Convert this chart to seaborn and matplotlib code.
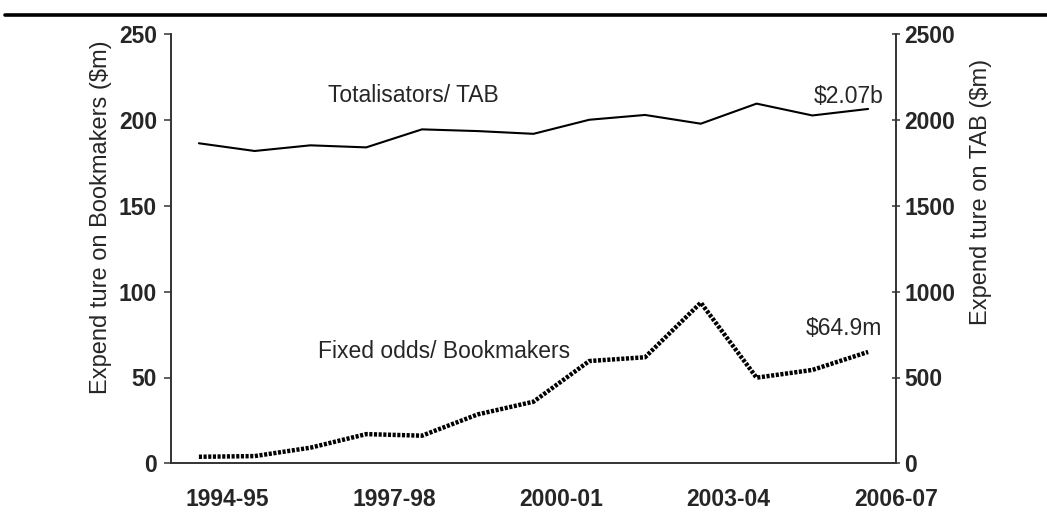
import numpy as np
import pandas as pd
import matplotlib
matplotlib.use("Agg")
import matplotlib.pyplot as plt
from matplotlib.lines import Line2D
import seaborn as sns

# ---- data ----
years = ["1994-95", "1995-96", "1996-97", "1997-98", "1998-99", "1999-00", "2000-01",
         "2001-02", "2002-03", "2003-04", "2004-05", "2005-06", "2006-07"]
bookmakers = [3.8, 4.2, 9.1, 17.0, 16.1, 28.5, 35.9, 59.6, 61.8, 93.6, 49.9, 54.4, 64.9]
tab = [1865, 1820, 1853, 1841, 1946, 1936, 1920, 2002, 2030, 1979, 2096, 2027, 2065]
labels_every = 3

sns.set_theme(style="white")
plt.rcParams["font.family"] = ["Liberation Sans", "DejaVu Sans"]

df = pd.DataFrame({"pos": np.arange(len(years)), "year": years,
                   "bookmakers": bookmakers, "tab": tab})

fig = plt.figure(figsize=(10.47, 5.25), dpi=100)
ax = fig.add_axes([171 / 1047, 1 - 463.3 / 525, (896 - 171) / 1047, (463.3 - 34.3) / 525])
ax2 = ax.twinx()

sns.lineplot(data=df, x="pos", y="bookmakers", ax=ax, color="black", lw=3.2,
             linestyle=(0, (0.7, 0.35)), solid_capstyle="butt", dash_capstyle="butt")
sns.lineplot(data=df, x="pos", y="tab", ax=ax2, color="black", lw=1.5)

axis_col = "#333333"
ax.set_xlim(-0.5, len(years) - 0.5)
ax.set_ylim(0, 250)
ax2.set_ylim(0, 2500)
ax.set_yticks(np.arange(0, 251, 50))
ax2.set_yticks(np.arange(0, 2501, 500))

ticks = np.arange(-0.5, len(years), 1.0)
ticklabels = [""] + [years[i] if i % labels_every == 0 else "" for i in range(len(years))]
ax.set_xticks(ticks)
ax.set_xticklabels(ticklabels)

for a in (ax, ax2):
    a.grid(False)
    a.set_xlabel("")
    for s in a.spines.values():
        s.set_color(axis_col)
        s.set_linewidth(1.2)
    a.spines["top"].set_visible(False)

ax.tick_params(axis="x", direction="out", length=4, width=1.1, color=axis_col,
               pad=14, labelsize=16.5)
ax.tick_params(axis="y", direction="out", length=5, width=1.1, color=axis_col,
               pad=5, labelsize=16.5, left=True)
ax2.tick_params(axis="y", direction="inout", length=6, width=1.1, color=axis_col,
                pad=3, labelsize=16.5, right=True)
for lab in ax.get_xticklabels() + ax.get_yticklabels() + ax2.get_yticklabels():
    lab.set_fontweight("bold")

ax.set_ylabel("Expend ture on Bookmakers ($m)", fontsize=17)
ax2.set_ylabel("Expend ture on TAB ($m)", fontsize=17)
ax.yaxis.set_label_coords(-0.081, 0.574)
ax2.yaxis.set_label_coords(1.102, 0.632)

ax.text(3.84, 214.6, "Totalisators/ TAB", fontsize=16.5, ha="center", va="center")
ax.text(11.65, 213.5, "$2.07b", fontsize=16.5, ha="center", va="center")
ax.text(4.4, 64.9, "Fixed odds/ Bookmakers", fontsize=16.5, ha="center", va="center")
ax.text(11.57, 78.8, "$64.9m", fontsize=16.5, ha="center", va="center")

fig.add_artist(Line2D([5 / 1047, 1.0], [1 - 15 / 525, 1 - 15 / 525], color="black", lw=2.6,
                      transform=fig.transFigure))

fig.savefig("out.png", dpi=100)
